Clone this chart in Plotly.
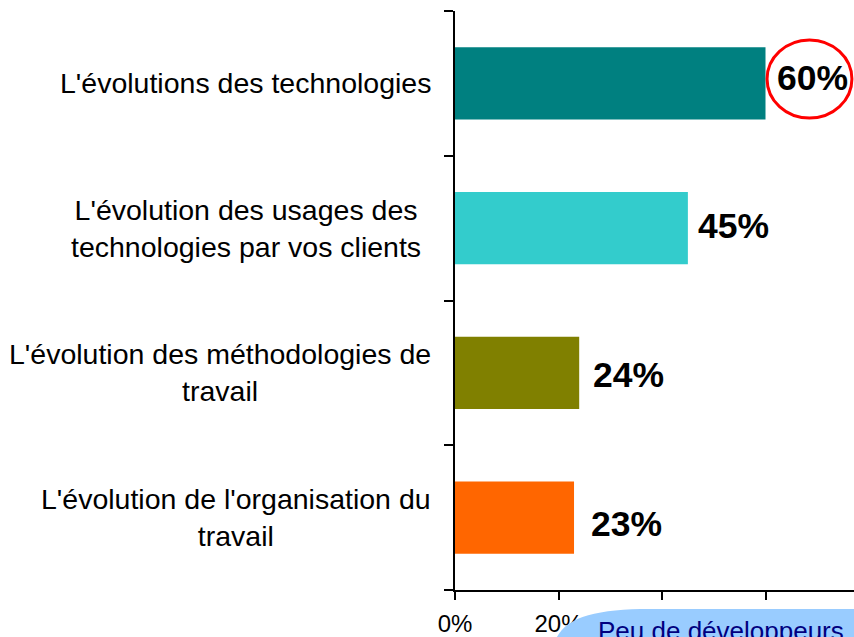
import plotly.graph_objects as go

categories = [
    "L'évolutions des technologies",
    "L'évolution des usages des<br>technologies par vos clients",
    "L'évolution des méthodologies de<br>travail",
    "L'évolution de l'organisation du<br>travail",
]
values = [0.60, 0.45, 0.24, 0.23]
value_labels = ["60%", "45%", "24%", "23%"]
bar_colors = ["#008080", "#33CCCC", "#808000", "#FF6600"]
callout_text = "Peu de développeurs"

# small hand placement of the labels, as in the original slide
cat_dx = [-22, -32, -22, -22]
val_dx = [9, 8, 12, 15]
val_dy = [5, 2, -2, -6]

W, H = 854, 637
L, R, T, B = 455, 0, 11, 44
PX_PER_UNIT = 517.5  # pixels per 100 %
x_max = (W - L - R) / PX_PER_UNIT

def px_to_paper(px, py):
    # page pixels -> paper coordinates
    return (px - L) / (W - L - R), (H - B - py) / (H - T - B)

fig = go.Figure(go.Bar(
    y=list(range(len(categories))),
    x=values,
    orientation="h",
    width=0.5,
    marker=dict(color=bar_colors, line=dict(width=0)),
    hoverinfo="skip",
))

annotations = []
for i, (cat, v, lab) in enumerate(zip(categories, values, value_labels)):
    annotations.append(dict(
        x=0, xref="paper", y=i, yref="y", text=cat, showarrow=False,
        xanchor="right", yanchor="middle", align="center", xshift=cat_dx[i],
        font=dict(family="Liberation Sans, Arial", size=28.5, color="#000000"),
    ))
    annotations.append(dict(
        x=v, xref="x", y=i, yref="y", text="<b>" + lab + "</b>", showarrow=False,
        xanchor="left", yanchor="middle", xshift=val_dx[i], yshift=val_dy[i],
        font=dict(family="Liberation Sans, Arial", size=35.5, color="#000000"),
    ))

# callout bubble at the bottom (cut by the page edge)
pts = [px_to_paper(553, 660), px_to_paper(552, 624), px_to_paper(585, 612),
       px_to_paper(650, 612), px_to_paper(900, 612), px_to_paper(900, 660)]
path = "M {0[0]},{0[1]} C {1[0]},{1[1]} {2[0]},{2[1]} {3[0]},{3[1]} L {4[0]},{4[1]} L {5[0]},{5[1]} Z".format(*pts)
cx, cy = px_to_paper(596, 617)
annotations.append(dict(
    x=cx, y=cy, xref="paper", yref="paper", text=callout_text, showarrow=False,
    xanchor="left", yanchor="top",
    font=dict(family="Liberation Sans, Arial", size=26, color="#000080"),
))

shapes = [
    dict(type="circle", xref="x", yref="y", x0=values[0] + 0.003, x1=values[0] + 0.167,
         y0=-0.30, y1=0.24, line=dict(color="#FF0000", width=3), layer="above"),
    dict(type="path", xref="paper", yref="paper", path=path,
         fillcolor="#99CCFF", line=dict(width=0), layer="above"),
]

fig.update_layout(
    width=W, height=H,
    margin=dict(l=L, r=R, t=T, b=B, pad=0),
    paper_bgcolor="white", plot_bgcolor="white",
    showlegend=False,
    annotations=annotations,
    shapes=shapes,
    xaxis=dict(
        range=[0, x_max], dtick=0.2, tick0=0, tickformat=".0%",
        showgrid=False, zeroline=False, showline=True, linecolor="black", linewidth=2,
        ticks="outside", ticklen=8, tickwidth=2, tickcolor="black",
        ticklabelstandoff=3,
        tickfont=dict(family="Liberation Sans, Arial", size=24, color="black"),
        fixedrange=True,
    ),
    yaxis=dict(
        range=[len(categories) - 0.5, -0.5],
        tickvals=[i - 0.5 for i in range(len(categories) + 1)],
        showticklabels=False,
        showgrid=False, zeroline=False, showline=True, linecolor="black", linewidth=2,
        ticks="outside", ticklen=9, tickwidth=2, tickcolor="black",
        fixedrange=True,
    ),
)

# pin the figure to the window's top-left corner (no body margin, no scrolling)
pin = ("document.documentElement.style.overflow='hidden';"
       "document.body.style.margin='0';document.body.style.overflow='hidden';"
       "var gd=document.getElementById('{plot_id}');"
       "gd.style.position='fixed';gd.style.left='0px';gd.style.top='0px';"
       "window.scrollTo(0,0);")
fig.write_html("out.html", config={"displayModeBar": False}, post_script=pin)
